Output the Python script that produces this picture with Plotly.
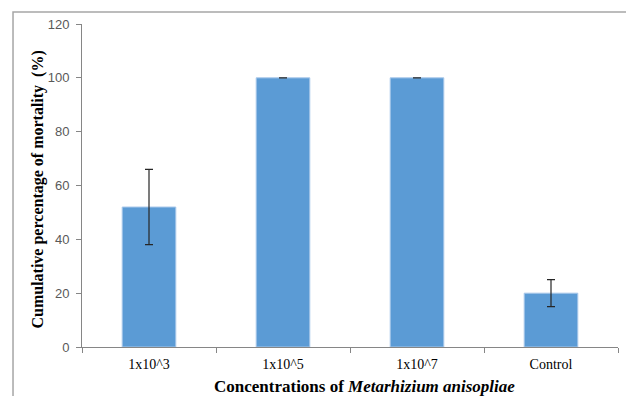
import plotly.graph_objects as go

categories = ["1x10^3", "1x10^5", "1x10^7", "Control"]
mortality = [52, 100, 100, 20]
errors = [14, 0, 0, 5]
y_ticks = [0, 20, 40, 60, 80, 100, 120]

x_title = "<b>Concentrations of <i>Metarhizium anisopliae</i></b>"
y_title = "<b>Cumulative percentage of mortality  (%)</b>"

fig = go.Figure()
fig.add_trace(go.Bar(
    x=categories, y=mortality,
    marker=dict(color="#5B9BD5", line=dict(color="#A9C8EA", width=1)),
    width=0.4,
    error_y=dict(type="data", array=errors, visible=True, color="#262626", thickness=1.2, width=4),
))

serif = "Liberation Serif, Times New Roman, serif"

fig.update_layout(
    width=626, height=388,
    margin=dict(l=74, r=16, t=16, b=49),
    paper_bgcolor="white", plot_bgcolor="white",
    showlegend=False,
    xaxis=dict(
        automargin=False,
        showline=True, linecolor="#868686", linewidth=1,
        ticks="outside", tickson="boundaries", ticklen=5, tickcolor="#868686",
        ticklabelstandoff=4,
        tickfont=dict(family=serif, size=14, color="#000"),
    ),
    yaxis=dict(
        automargin=False,
        range=[0, 120], tickvals=y_ticks,
        showline=True, linecolor="#868686", linewidth=1,
        ticks="outside", ticklen=5, tickcolor="#868686",
        ticklabelstandoff=4,
        showgrid=False, zeroline=False,
        tickfont=dict(family="Liberation Sans, Arial, sans-serif", size=13, color="#595959"),
    ),
    annotations=[
        dict(text=x_title, xref="paper", yref="paper", x=0.527, y=-0.123,
             xanchor="center", yanchor="middle", showarrow=False,
             font=dict(family=serif, size=17, color="#000")),
        dict(text=y_title, xref="paper", yref="paper", x=-0.0812, y=0.489,
             xanchor="center", yanchor="middle", showarrow=False, textangle=-90,
             font=dict(family=serif, size=16, color="#000")),
    ],
    shapes=[dict(type="rect", xref="paper", yref="paper",
                 x0=-0.1287, x1=1.026, y0=-0.17, y1=1.037,
                 line=dict(color="#A6A6A6", width=1.5), layer="below")],
)

fig.write_html("out.html")
